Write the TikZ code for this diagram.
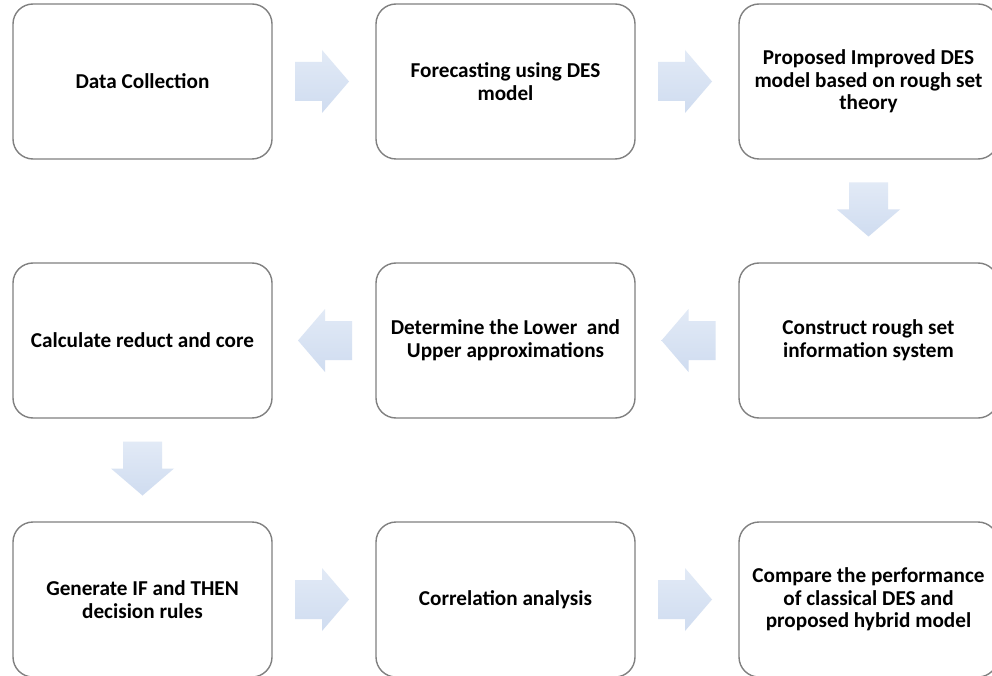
\documentclass[tikz,border=0pt]{standalone}
\usepackage{fontspec}
\setmainfont{Carlito}
\usetikzlibrary{calc}
\definecolor{boxline}{RGB}{128,128,128}
\definecolor{arrtop}{RGB}{226,234,246}
\definecolor{arrbot}{RGB}{207,220,240}
\tikzset{
  stepbox/.style={draw=boxline, line width=1.4pt, fill=white, rounded corners=20pt,
    minimum width=259pt, minimum height=155pt, align=center, inner sep=0pt,
    font=\fontsize{21.2}{22.6}\selectfont\bfseries},
  arrowfill/.style={top color=arrtop, bottom color=arrbot, draw=none}
}
\newcommand{\RightBlock}[1]{\shade[arrowfill, shift={(#1)}] (-27,-19.5) -- (0,-19.5) -- (0,-31.5) -- (27,0) -- (0,31.5) -- (0,19.5) -- (-27,19.5) -- cycle;}
\newcommand{\LeftBlock}[1]{\shade[arrowfill, shift={(#1)}] (27,-19.5) -- (0,-19.5) -- (0,-31.5) -- (-27,0) -- (0,31.5) -- (0,19.5) -- (27,19.5) -- cycle;}
\newcommand{\DownBlock}[1]{\shade[arrowfill, shift={(#1)}] (-19.5,-27) -- (19.5,-27) -- (19.5,0) -- (31.5,0) -- (0,27) -- (-31.5,0) -- (-19.5,0) -- cycle;}
\begin{document}
\begin{tikzpicture}[x=1pt, y=-1pt]
\path[use as bounding box, clip] (0,0) rectangle (992,676);
\fill[white] (0,0) rectangle (992,676);
% row 1
\node[stepbox] (b1) at (142.5,81.5) {Data Collection};
\node[stepbox] (b2) at (505.5,81.5) {Forecasting using DES\\model};
\node[stepbox] (b3) at (868.5,81.5) {Proposed Improved DES\\model based on rough set\\theory};
% row 2
\node[stepbox] (b4) at (868.5,340.5) {Construct rough set\\information system};
\node[stepbox] (b5) at (505.5,340.5) {Determine the Lower~ and\\Upper approximations};
\node[stepbox] (b6) at (142.5,340.5) {Calculate reduct and core};
% row 3
\node[stepbox] (b7) at (142.5,599.5) {Generate IF and THEN\\decision rules};
\node[stepbox] (b8) at (505.5,599.5) {Correlation analysis};
\node[stepbox] (b9) at (868.5,599.5) {Compare the performance\\of classical DES and\\proposed hybrid model};
% arrow anchors
\coordinate (a12) at ($(b1.east)!0.5!(b2.west)+(-2,0)$);
\coordinate (a23) at ($(b2.east)!0.5!(b3.west)+(-2,0)$);
\coordinate (a34) at ($(b3.south)!0.5!(b4.north)+(0,-1.5)$);
\coordinate (a45) at ($(b4.west)!0.5!(b5.east)+(1.5,0)$);
\coordinate (a56) at ($(b5.west)!0.5!(b6.east)+(1,0)$);
\coordinate (a67) at ($(b6.south)!0.5!(b7.north)+(0,-1.5)$);
\coordinate (a78) at ($(b7.east)!0.5!(b8.west)+(-2,0)$);
\coordinate (a89) at ($(b8.east)!0.5!(b9.west)+(-2,0)$);
\RightBlock{a12}
\RightBlock{a23}
\DownBlock{a34}
\LeftBlock{a45}
\LeftBlock{a56}
\DownBlock{a67}
\RightBlock{a78}
\RightBlock{a89}
\end{tikzpicture}
\end{document}
